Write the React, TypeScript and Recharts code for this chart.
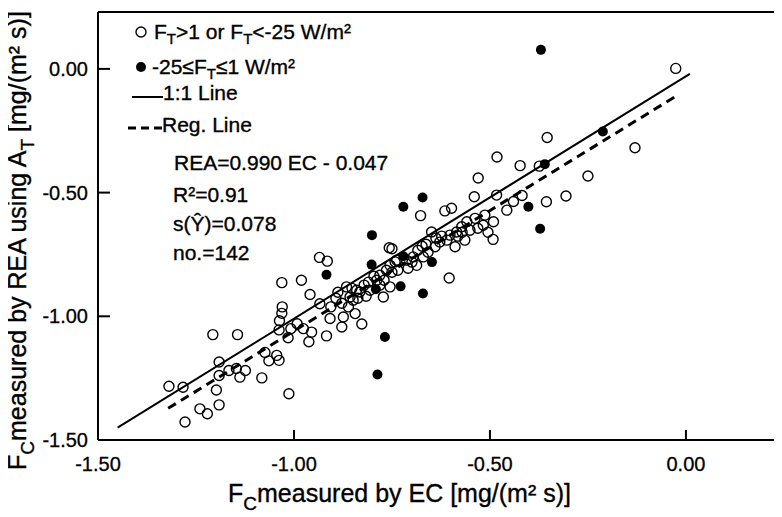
import React from 'react';
import { ScatterChart, Scatter, XAxis, YAxis, Legend, ReferenceLine } from 'recharts';

const FONT = '"Liberation Sans", Arial, sans-serif';

// open circles: F_T > 1 or F_T < -25 W/m2
const openEC = [
  -1.319, -1.283, -1.278, -1.24, -1.221, -1.191, -1.198, -1.191, -1.191, -1.207, -1.144, -1.166, -1.147,
  -1.124, -1.138, -1.082, -1.074, -1.064, -1.038, -1.013, -1.044, -1.031, -0.981, -1.03, -1.031, -1.037,
  -1.038, -1.015, -1.008, -0.992, -0.976, -0.962, -0.955, -0.959, -0.935, -0.915, -0.934, -0.917, -0.906,
  -0.908, -0.878, -0.874, -0.861, -0.844, -0.827, -0.866, -0.857, -0.84, -0.849, -0.832, -0.81, -0.789,
  -0.772, -0.755, -0.781, -0.764, -0.757, -0.75, -0.742, -0.713, -0.738, -0.755, -0.696, -0.687, -0.67,
  -0.677, -0.615, -0.598, -0.604, -0.649, -0.623, -0.61, -0.64, -0.589, -0.585, -0.572, -0.559, -0.564,
  -0.538, -0.517, -0.491, -0.492, -0.54, -0.53, -0.482, -0.423, -0.374, -0.483, -0.457, -0.44, -0.418,
  -0.356, -0.306, -0.354, -0.25, -0.13, -0.026,
  -0.893, -0.878, -0.888, -0.852, -0.837, -0.821, -0.816, -0.806, -0.796, -0.781, -0.77, -0.75, -0.735,
  -0.709, -0.699, -0.684, -0.673, -0.663, -0.658, -0.638, -0.628, -0.602, -0.582, -0.571, -0.551, -0.531,
  -0.513, -0.505,
];
const openREA = [
  -1.283, -1.287, -1.427, -1.374, -1.394, -1.358, -1.298, -1.239, -1.185, -1.074, -1.074, -1.219, -1.211,
  -1.219, -1.246, -1.249, -1.146, -1.18, -1.178, -1.313, -1.158, -0.864, -0.854, -0.962, -0.988, -1.018,
  -1.055, -1.087, -1.05, -1.03, -1.05, -1.103, -1.064, -0.912, -0.762, -0.777, -0.949, -1.079, -0.962,
  -1.009, -1.043, -1.003, -0.962, -0.989, -1.031, -0.881, -0.922, -0.895, -0.935, -0.902, -0.862, -0.854,
  -0.922, -0.881, -0.874, -0.814, -0.723, -0.727, -0.78, -0.773, -0.773, -0.794, -0.76, -0.794, -0.76,
  -0.593, -0.574, -0.563, -0.845, -0.659, -0.676, -0.692, -0.719, -0.719, -0.659, -0.638, -0.618, -0.692,
  -0.604, -0.632, -0.618, -0.689, -0.517, -0.441, -0.356, -0.391, -0.393, -0.51, -0.571, -0.536, -0.512,
  -0.537, -0.514, -0.277, -0.433, -0.319, 0.002,
  -0.927, -0.947, -0.903, -0.887, -0.927, -0.874, -0.919, -0.895, -0.838, -0.834, -0.854, -0.822, -0.814,
  -0.806, -0.781, -0.733, -0.717, -0.709, -0.741, -0.684, -0.7, -0.672, -0.676, -0.66, -0.652, -0.644,
  -0.591, -0.66,
];

// filled circles: -25 <= F_T <= 1 W/m2
const filledEC = [
  -0.917, -0.801, -0.802, -0.721, -0.672, -0.768, -0.787, -0.728, -0.671, -0.721, -0.648, -0.36, -0.212,
  -0.402, -0.372, -0.37, -0.791,
];
const filledREA = [
  -0.832, -0.672, -0.791, -0.557, -0.52, -1.084, -1.235, -0.879, -0.908, -0.757, -0.781, -0.385, -0.253,
  -0.557, -0.646, 0.077, -0.891,
];

// line end points
const oneToOneX = [-1.45, 0.01];
const oneToOneY = [-1.45, -0.02];
const regX = [-1.321, -0.02];
const regY = [-1.372, -0.105];

const ticks = [-1.5, -1.0, -0.5, 0.0];

const zip = (xs: number[], ys: number[]) => xs.map((x, i) => ({ x, y: ys[i] }));

const openPts = zip(openEC, openREA);
const filledPts = zip(filledEC, filledREA);
const oneToOne = zip(oneToOneX, oneToOneY);
const regLine = zip(regX, regY);

const OpenDot = (p: any) => <circle cx={p.cx} cy={p.cy} r={5} fill="none" stroke="#000" strokeWidth={1.4} />;
const FilledDot = (p: any) => <circle cx={p.cx} cy={p.cy} r={5} fill="#000" />;
const NoDot = () => <g />;

const txt = { fontFamily: FONT, fontSize: 21, fill: '#000', stroke: '#000', strokeWidth: 0.35 };

const LegendBox = () => (
  <svg width={420} height={260} style={{ display: 'block' }}>
    <circle cx={133} cy={24} r={5} fill="none" stroke="#000" strokeWidth={1.4} />
    <text x={146} y={24} dy="0.35em" {...txt}>
      F<tspan dy={5} fontSize={15}>T</tspan>
      <tspan dy={-5}>{'>1 or F'}</tspan>
      <tspan dy={5} fontSize={15}>T</tspan>
      <tspan dy={-5}>{'<-25 W/m²'}</tspan>
    </text>
    <circle cx={133} cy={59} r={5} fill="#000" />
    <text x={144} y={59} dy="0.35em" {...txt}>
      {'-25≤F'}
      <tspan dy={5} fontSize={15}>T</tspan>
      <tspan dy={-5}>{'≤1 W/m²'}</tspan>
    </text>
    <line x1={124} y1={89} x2={155} y2={89} stroke="#000" strokeWidth={2} />
    <text x={155} y={85} dy="0.35em" {...txt}>1:1 Line</text>
    <line x1={120} y1={120} x2={154} y2={120} stroke="#000" strokeWidth={3} strokeDasharray="8 5" />
    <text x={154} y={117} dy="0.35em" {...txt}>Reg. Line</text>
    <text x={166} y={155} dy="0.35em" {...txt}>REA=0.990 EC - 0.047</text>
    <text x={165} y={187} dy="0.35em" {...txt}>R²=0.91</text>
    <text x={165} y={216} dy="0.35em" {...txt}>s(Ŷ)=0.078</text>
    <text x={165} y={245} dy="0.35em" {...txt}>no.=142</text>
  </svg>
);

const XTitle = () => (
  <text x={220} y={494} fontFamily={FONT} fontSize={25} fill="#000" stroke="#000" strokeWidth={0.35}>
    F<tspan dy={8} fontSize={19}>C</tspan>
    <tspan dy={-8}>measured by EC [mg/(m² s)]</tspan>
  </text>
);

const YTitle = () => (
  <text
    x={18}
    y={462}
    transform="rotate(-90, 18, 462)"
    fontFamily={FONT}
    fontSize={25}
    fill="#000"
    stroke="#000"
    strokeWidth={0.35}
  >
    F<tspan dy={8} fontSize={19}>C</tspan>
    <tspan dy={-8}>measured by REA using A</tspan>
    <tspan dy={8} fontSize={19}>T</tspan>
    <tspan dy={-8}> [mg/(m² s)]</tspan>
  </text>
);

const tickStyle = { fontSize: 20, fill: '#000', fontFamily: FONT, stroke: '#000', strokeWidth: 0.3 };

export default function App() {
  return (
    <ScatterChart width={774} height={509} margin={{ top: 4, right: 2, bottom: 0, left: 0 }}>
      <XAxis
        type="number"
        dataKey="x"
        domain={[-1.5, 0.24]}
        ticks={ticks}
        allowDataOverflow
        height={77}
        tickFormatter={(v: number) => v.toFixed(2)}
        tick={tickStyle}
        tickSize={-10}
        tickMargin={27}
        axisLine={{ stroke: '#000', strokeWidth: 2 }}
        tickLine={{ stroke: '#000', strokeWidth: 2 }}
        label={{ content: XTitle }}
      />
      <YAxis
        type="number"
        dataKey="y"
        domain={[-1.5, 0.23]}
        ticks={ticks}
        allowDataOverflow
        width={90}
        tickFormatter={(v: number) => v.toFixed(2)}
        tick={tickStyle}
        tickSize={-12}
        tickMargin={22}
        axisLine={{ stroke: '#000', strokeWidth: 2 }}
        tickLine={{ stroke: '#000', strokeWidth: 2 }}
        label={{ content: YTitle }}
      />
      <ReferenceLine y={0.23} stroke="#000" strokeWidth={2} />
      <Scatter data={oneToOne} line={{ stroke: '#000', strokeWidth: 2 }} shape={NoDot} isAnimationActive={false} />
      <Scatter
        data={regLine}
        line={{ stroke: '#000', strokeWidth: 3, strokeDasharray: '9 6' }}
        shape={NoDot}
        isAnimationActive={false}
      />
      <Scatter data={openPts} shape={OpenDot} isAnimationActive={false} />
      <Scatter data={filledPts} shape={FilledDot} isAnimationActive={false} />
      <Legend
        layout="horizontal"
        verticalAlign="middle"
        align="center"
        wrapperStyle={{ top: 0, left: 0, width: 420, height: 260 }}
        content={LegendBox}
      />
    </ScatterChart>
  );
}
